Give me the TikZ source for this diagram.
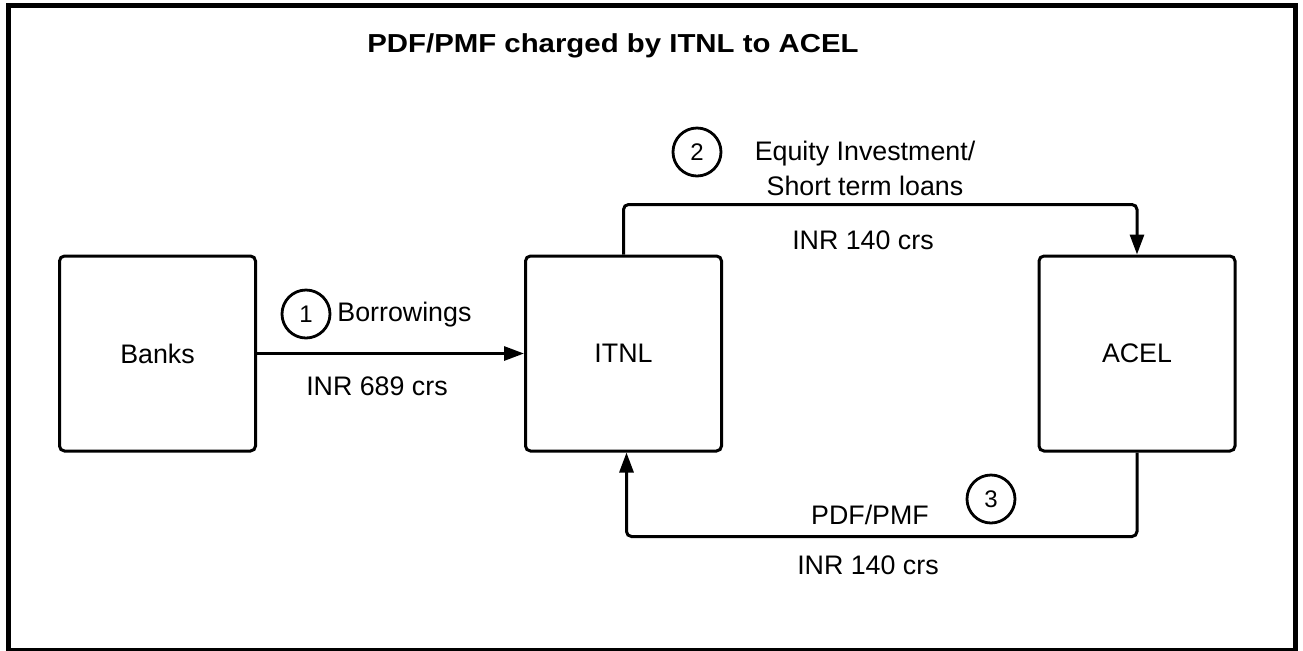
\documentclass[tikz,border=0pt]{standalone}
\usepackage{fontspec}
\setmainfont{Liberation Sans}
\usetikzlibrary{arrows.meta,positioning}

\begin{document}
\begin{tikzpicture}[x=0.5pt,y=-0.5pt,
  entity/.style={draw,line width=1.5pt,rounded corners=2.5pt,minimum width=98pt,minimum height=97.5pt,font=\fontsize{13.4}{16}\selectfont},
  flow/.style={line width=1.5pt,rounded corners=2.5pt,-{Triangle[length=10pt,width=7pt]}},
  lbl/.style={inner sep=0pt,font=\fontsize{13.4}{17.5}\selectfont},
  num/.style={circle,draw,line width=1.4pt,minimum size=24pt,inner sep=0pt,font=\fontsize{12}{14}\selectfont}]
\useasboundingbox (0,0) rectangle (1303,650);
\draw[line width=2.5pt] (8.5,5.5) rectangle (1295.5,650);
\node[inner sep=0pt,font=\fontsize{13}{15}\selectfont\bfseries] (title) at (613,46) {\scalebox{1.13}[1]{PDF/PMF charged by ITNL to ACEL}};
% the three parties
\node[entity] (banks) at (157.5,353.5) {Banks};
\node[entity] (itnl) at (623.5,353.5) {ITNL};
\node[entity] (acel) at (1137,353.5) {ACEL};
% flows
\draw[flow] (banks) -- (itnl);
\draw[flow] (itnl.north) -- ++(0,-50) -| (acel.north);
\draw[flow] (acel.south) -- ++(0,84) -| ([xshift=1.5pt]itnl.south);
% labels
\node[num] (n1) at (306,314) {1};
\node[lbl,anchor=west] (borrow) at (337,315) {Borrowings};
\node[lbl] (amt1) at (377,386) {INR 689 crs};
\node[num] (n2) at (697,152) {2};
\node[lbl,align=center] (equity) at (865,168) {Equity Investment/\\Short term loans};
\node[lbl] (amt2) at (863,240) {INR 140 crs};
\node[num] (n3) at (991,499) {3};
\node[lbl] (pdf) at (870,515) {PDF/PMF};
\node[lbl] (amt3) at (868,565) {INR 140 crs};
\end{tikzpicture}
\end{document}
